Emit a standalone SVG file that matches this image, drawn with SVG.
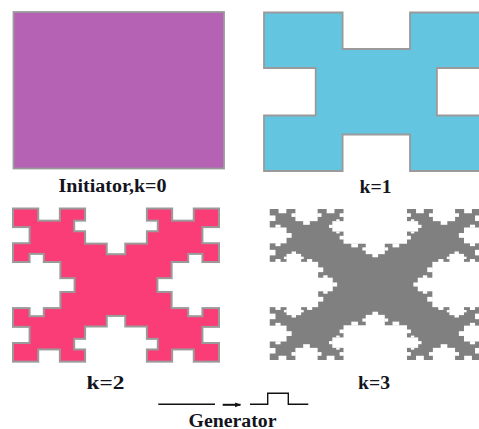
<svg xmlns="http://www.w3.org/2000/svg" xmlns:xlink="http://www.w3.org/1999/xlink" width="479" height="429" viewBox="0 0 479 429">
<style>
text{font-family:'Liberation Serif','DejaVu Serif','Times New Roman',serif;font-weight:700;font-size:18px;fill:#141420;text-anchor:middle}
.edge{stroke:#9a9a9a;stroke-width:1.8;stroke-linejoin:miter}
.gen{fill:none;stroke:#111;stroke-width:1.4}
</style>
<defs>
<g id="e1"><rect x="350" y="-20" width="300" height="250"/></g>
<g id="e2"><rect x="350" y="-20" width="300" height="250"/>
<use href="#e1" transform="scale(0.35)"/>
<use href="#e1" transform="translate(350,0) rotate(90) scale(0.23)"/>
<use href="#e1" transform="translate(350,230) scale(0.3)"/>
<use href="#e1" transform="translate(650,230) rotate(-90) scale(0.23)"/>
<use href="#e1" transform="translate(650,0) scale(0.35)"/>
</g>
<g id="e3"><rect x="350" y="-20" width="300" height="250"/>
<use href="#e2" transform="scale(0.35)"/>
<use href="#e2" transform="translate(350,0) rotate(90) scale(0.23)"/>
<use href="#e2" transform="translate(350,230) scale(0.3)"/>
<use href="#e2" transform="translate(650,230) rotate(-90) scale(0.23)"/>
<use href="#e2" transform="translate(650,0) scale(0.35)"/>
</g>
<mask id="m2" maskUnits="userSpaceOnUse" x="-100" y="-100" width="1200" height="1200">
<rect width="1000" height="1000" fill="#fff"/>
<g fill="#000">
<use href="#e2"/>
<use href="#e2" transform="translate(1000,0) rotate(90)"/>
<use href="#e2" transform="translate(1000,1000) rotate(180)"/>
<use href="#e2" transform="translate(0,1000) rotate(-90)"/>
</g>
</mask>
<mask id="m3" maskUnits="userSpaceOnUse" x="-100" y="-100" width="1200" height="1200">
<rect width="1000" height="1000" fill="#fff"/>
<g fill="#000">
<use href="#e3"/>
<use href="#e3" transform="translate(1000,0) rotate(90)"/>
<use href="#e3" transform="translate(1000,1000) rotate(180)"/>
<use href="#e3" transform="translate(0,1000) rotate(-90)"/>
</g>
</mask>
<filter id="erode" x="-10%" y="-10%" width="120%" height="120%"><feMorphology operator="erode" radius="1"/></filter>
<filter id="dilate" x="-10%" y="-10%" width="120%" height="120%"><feMorphology operator="dilate" radius="1"/></filter>
<marker id="arr" viewBox="0 0 10 10" refX="9" refY="5" markerWidth="6" markerHeight="6" orient="auto" markerUnits="userSpaceOnUse"><path d="M0,1 L10,5 L0,9 Z" fill="#111"/></marker>
</defs>

<g id="k0">
<rect x="13.5" y="12" width="210.5" height="156.5" fill="#B562B5" class="edge"/>
<text x="112.5" y="191.5" textLength="108" lengthAdjust="spacingAndGlyphs">Initiator,k=0</text>
</g>

<g id="k1">
<path class="edge" fill="#63C5DF" d="M264,12.5 H342.6 V49 H410 V12.5 H488.6 V68 H436.9 V115.5 H488.6 V171 H410 V134.5 H342.6 V171 H264 V115.5 H315.7 V68 H264 Z"/>
<text x="375.5" y="192.5" textLength="32" lengthAdjust="spacingAndGlyphs">k=1</text>
</g>

<g id="k2">
<g filter="url(#dilate)"><g transform="translate(13,208.3) scale(0.206,0.1535)"><rect width="1000" height="1000" fill="#9a9a9a" mask="url(#m2)"/></g></g>
<g filter="url(#erode)"><g transform="translate(13,208.3) scale(0.206,0.1535)"><rect width="1000" height="1000" fill="#FB3C77" mask="url(#m2)"/></g></g>
<text x="105.5" y="389" textLength="38" lengthAdjust="spacingAndGlyphs">k=2</text>
</g>

<g id="k3">
<g transform="translate(269.5,209) scale(0.2115,0.151)"><rect width="1000" height="1000" fill="#808080" mask="url(#m3)"/></g>
<text x="374" y="388.5" textLength="32" lengthAdjust="spacingAndGlyphs">k=3</text>
</g>

<g id="generator">
<line class="gen" x1="158.3" y1="404.3" x2="215" y2="404.3"/>
<polyline class="gen" points="250,404.3 267.7,404.3 267.7,393.3 288.3,393.3 288.3,404.3 308.3,404.3"/>
<text x="232.5" y="426.5" textLength="88" lengthAdjust="spacingAndGlyphs">Generator</text>
</g>

<g id="connectors">
<line x1="222.7" y1="404.8" x2="240.5" y2="404.8" stroke="#111" stroke-width="2" marker-end="url(#arr)"/>
</g>
</svg>
